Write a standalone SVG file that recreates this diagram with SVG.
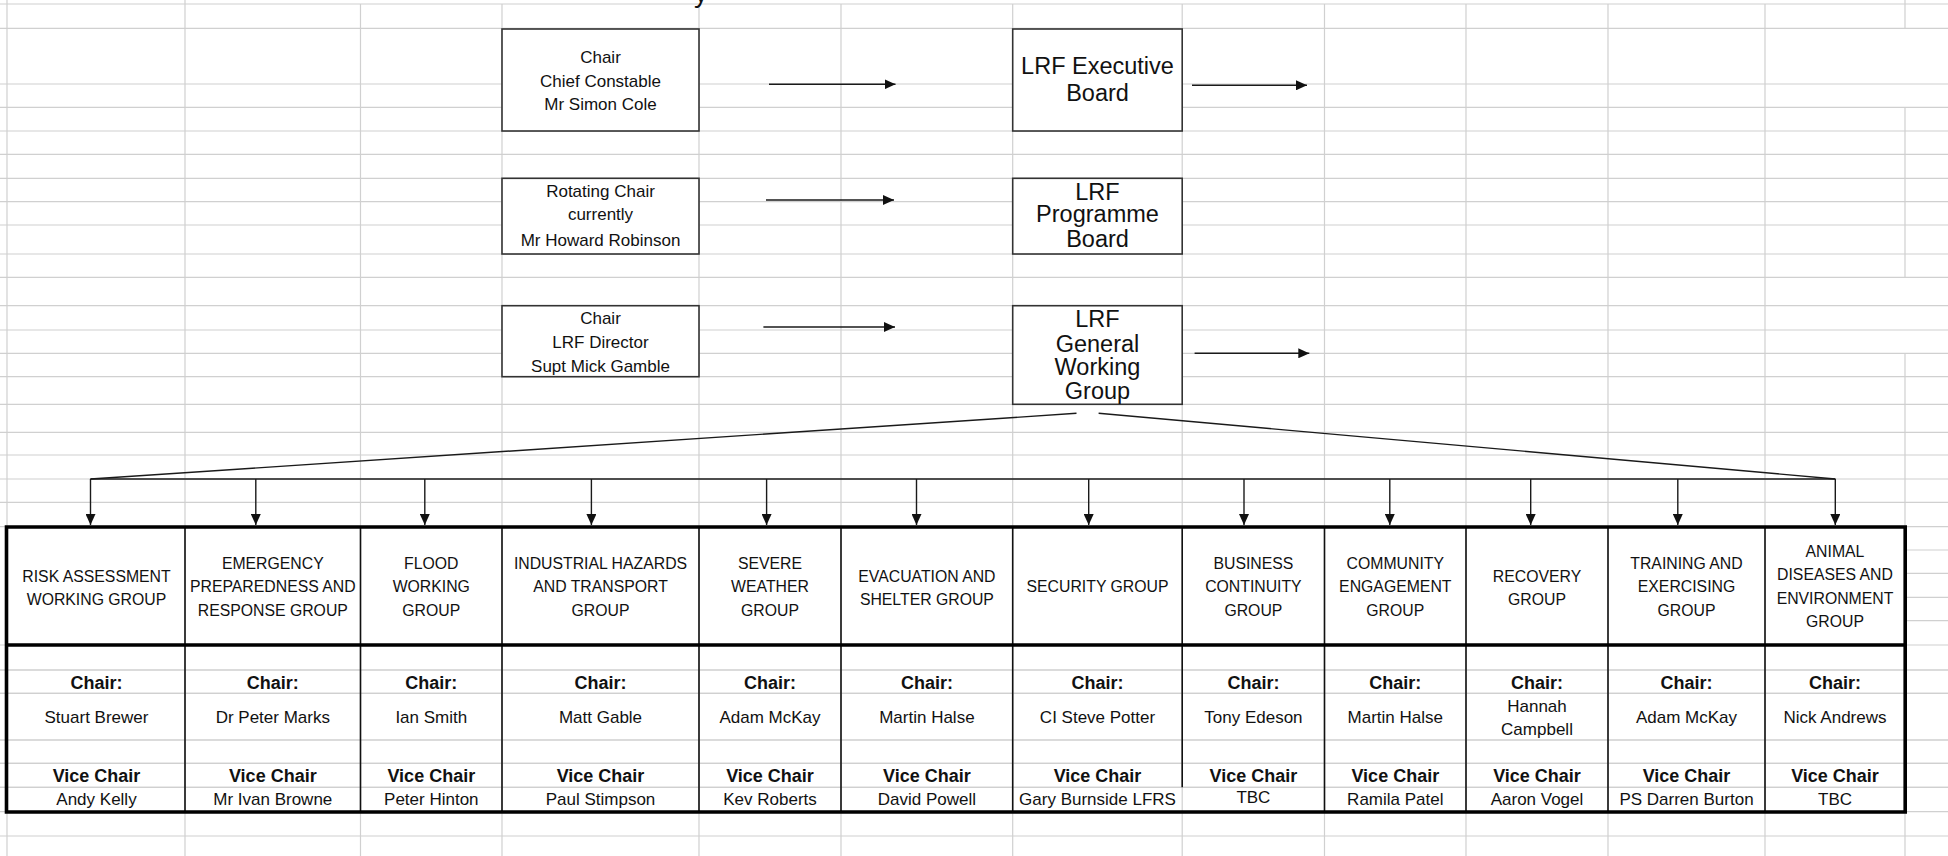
<svg xmlns="http://www.w3.org/2000/svg" width="1948" height="856" viewBox="0 0 1948 856">
<defs>
<style>
.grid{stroke:#d0d0d0;stroke-width:1.2;fill:none}
.box{fill:#fff;stroke:#333;stroke-width:1.6}
.t{font-family:"Liberation Sans",Arial,sans-serif;font-size:17px;text-anchor:middle;fill:#111}
.big{font-size:23.5px}
.hdr{font-size:15.8px}
.b{font-weight:bold;font-size:18px}
.conn{stroke:#1a1a1a;stroke-width:1.4;fill:none}
.arr{marker-end:url(#ah)}
.thick{stroke:#000;stroke-width:3.6;fill:none}
.cell{stroke:#111;stroke-width:1.6;fill:none}
</style>
<marker id="ah" viewBox="0 0 11 10" refX="11" refY="5" markerWidth="11" markerHeight="10" markerUnits="userSpaceOnUse" orient="auto">
<path d="M0,0 L11,5 L0,10 z" fill="#111"/>
</marker>
</defs>
<rect width="1948" height="856" fill="#fff"/>

<g id="grid" class="grid">
<path d="M0,4H1948 M0,28.3H1948 M0,84H1948 M0,107.3H1948 M0,131H1948 M0,154.3H1948 M0,178.3H1948 M0,201.7H1948 M0,225H1948 M0,254H1948 M0,277.3H1948 M0,305.7H1948 M0,330H1948 M0,353.3H1948 M0,376.7H1948 M0,404.3H1948 M0,432.3H1948 M0,455H1948 M0,479H1948 M0,502.3H1948 M0,526.7H1948 M1905,550H1948 M1905,573.3H1948 M1905,597.3H1948 M1905,620.7H1948 M0,645H1948 M0,670H1948 M0,693.3H1948 M0,740H1948 M0,763.3H1948 M0,787.3H1948 M0,811.7H1948 M0,836H1948"/>
<path d="M7,0V856 M185,0V856 M360.5,4V856 M502,4V856 M699,4V856 M841,4V856 M1012.7,4V856 M1182.2,4V856 M1324.5,4V856 M1466,4V856 M1608,4V856 M1765,4V856 M1905,0V28.3 M1905,107.3V277.3 M1905,353.3V856"/>
</g>

<text id="title-fragment" class="t" x="694" y="2" style="font-size:28px;text-anchor:start">y</text>

<g id="connectors">
<line class="conn arr" x1="769" y1="84.3" x2="895.5" y2="84.3"/>
<line class="conn arr" x1="766" y1="200" x2="894" y2="200"/>
<line class="conn arr" x1="763.4" y1="327" x2="895" y2="327"/>
<line class="conn arr" x1="1192" y1="85.3" x2="1307" y2="85.3"/>
<line class="conn arr" x1="1194.6" y1="353.3" x2="1309.3" y2="353.3"/>
<line class="conn" x1="1076.5" y1="413.3" x2="90.5" y2="479"/>
<line class="conn" x1="1098.6" y1="413.3" x2="1835.3" y2="479"/>
<line class="conn" x1="90.5" y1="479" x2="1835.3" y2="479"/>
<line class="conn arr" x1="90.5" y1="479" x2="90.5" y2="525"/>
<line class="conn arr" x1="255.8" y1="479" x2="255.8" y2="525"/>
<line class="conn arr" x1="424.8" y1="479" x2="424.8" y2="525"/>
<line class="conn arr" x1="591.4" y1="479" x2="591.4" y2="525"/>
<line class="conn arr" x1="766.6" y1="479" x2="766.6" y2="525"/>
<line class="conn arr" x1="916.5" y1="479" x2="916.5" y2="525"/>
<line class="conn arr" x1="1088.7" y1="479" x2="1088.7" y2="525"/>
<line class="conn arr" x1="1244" y1="479" x2="1244" y2="525"/>
<line class="conn arr" x1="1389.8" y1="479" x2="1389.8" y2="525"/>
<line class="conn arr" x1="1530.7" y1="479" x2="1530.7" y2="525"/>
<line class="conn arr" x1="1677.8" y1="479" x2="1677.8" y2="525"/>
<line class="conn arr" x1="1835.3" y1="479" x2="1835.3" y2="525"/>
</g>

<g id="chair-exec">
<rect class="box" x="502" y="29" width="197" height="102"/>
<text class="t" x="600.5" y="62.7">Chair</text>
<text class="t" x="600.5" y="86.7">Chief Constable</text>
<text class="t" x="600.5" y="110">Mr Simon Cole</text>
</g>
<g id="chair-programme">
<rect class="box" x="502" y="178.3" width="197" height="75.7"/>
<text class="t" x="600.5" y="197">Rotating Chair</text>
<text class="t" x="600.5" y="220.3">currently</text>
<text class="t" x="600.5" y="246">Mr Howard Robinson</text>
</g>
<g id="chair-general">
<rect class="box" x="502" y="305.7" width="197" height="71"/>
<text class="t" x="600.5" y="324.3">Chair</text>
<text class="t" x="600.5" y="348">LRF Director</text>
<text class="t" x="600.5" y="371.5">Supt Mick Gamble</text>
</g>

<g id="lrf-executive-board">
<rect class="box" x="1012.7" y="29" width="169.5" height="102"/>
<text class="t big" x="1097.5" y="74">LRF Executive</text>
<text class="t big" x="1097.5" y="101">Board</text>
</g>
<g id="lrf-programme-board">
<rect class="box" x="1012.7" y="178.3" width="169.5" height="75.7"/>
<text class="t big" x="1097.5" y="199.5">LRF</text>
<text class="t big" x="1097.5" y="222.3">Programme</text>
<text class="t big" x="1097.5" y="246.7">Board</text>
</g>
<g id="lrf-general-working-group">
<rect class="box" x="1012.7" y="305.7" width="169.5" height="98.6"/>
<text class="t big" x="1097.5" y="327.3">LRF</text>
<text class="t big" x="1097.5" y="351.7">General</text>
<text class="t big" x="1097.5" y="375">Working</text>
<text class="t big" x="1097.5" y="399.3">Group</text>
</g>

<g id="groups-table">
<path class="grid" d="M7,527V812 M0,670H1948 M0,693.3H1948 M0,740H1948 M0,763.3H1948 M0,787.3H1948"/>
<path class="cell" d="M185,527V812 M360.5,527V812 M502,527V812 M699,527V812 M841,527V812 M1012.7,527V812 M1182.2,527V787.3 M1324.5,527V812 M1466,527V812 M1608,527V812 M1765,527V812"/>
<path class="thick" d="M6.5,527H1905.2V812H6.5Z M6.5,645H1905.2"/>
</g>

<g id="risk-assessment">
<text class="t hdr" x="96.5" y="581.5">RISK ASSESSMENT</text>
<text class="t hdr" x="96.5" y="604.5">WORKING GROUP</text>
<text class="t b" x="96.5" y="689">Chair:</text>
<text class="t" x="96.5" y="723">Stuart Brewer</text>
<text class="t b" x="96.5" y="782.4">Vice Chair</text>
<text class="t" x="96.5" y="805.4">Andy Kelly</text>
</g>
<g id="emergency-preparedness">
<text class="t hdr" x="272.8" y="568.5">EMERGENCY</text>
<text class="t hdr" x="272.8" y="592">PREPAREDNESS AND</text>
<text class="t hdr" x="272.8" y="615.5">RESPONSE GROUP</text>
<text class="t b" x="272.8" y="689">Chair:</text>
<text class="t" x="272.8" y="723">Dr Peter Marks</text>
<text class="t b" x="272.8" y="782.4">Vice Chair</text>
<text class="t" x="272.8" y="805.4">Mr Ivan Browne</text>
</g>
<g id="flood">
<text class="t hdr" x="431.3" y="568.5">FLOOD</text>
<text class="t hdr" x="431.3" y="592">WORKING</text>
<text class="t hdr" x="431.3" y="615.5">GROUP</text>
<text class="t b" x="431.3" y="689">Chair:</text>
<text class="t" x="431.3" y="723">Ian Smith</text>
<text class="t b" x="431.3" y="782.4">Vice Chair</text>
<text class="t" x="431.3" y="805.4">Peter Hinton</text>
</g>
<g id="industrial-hazards">
<text class="t hdr" x="600.5" y="568.5">INDUSTRIAL HAZARDS</text>
<text class="t hdr" x="600.5" y="592">AND TRANSPORT</text>
<text class="t hdr" x="600.5" y="615.5">GROUP</text>
<text class="t b" x="600.5" y="689">Chair:</text>
<text class="t" x="600.5" y="723">Matt Gable</text>
<text class="t b" x="600.5" y="782.4">Vice Chair</text>
<text class="t" x="600.5" y="805.4">Paul Stimpson</text>
</g>
<g id="severe-weather">
<text class="t hdr" x="770" y="568.5">SEVERE</text>
<text class="t hdr" x="770" y="592">WEATHER</text>
<text class="t hdr" x="770" y="615.5">GROUP</text>
<text class="t b" x="770" y="689">Chair:</text>
<text class="t" x="770" y="723">Adam McKay</text>
<text class="t b" x="770" y="782.4">Vice Chair</text>
<text class="t" x="770" y="805.4">Kev Roberts</text>
</g>
<g id="evacuation-shelter">
<text class="t hdr" x="926.9" y="581.5">EVACUATION AND</text>
<text class="t hdr" x="926.9" y="604.5">SHELTER GROUP</text>
<text class="t b" x="926.9" y="689">Chair:</text>
<text class="t" x="926.9" y="723">Martin Halse</text>
<text class="t b" x="926.9" y="782.4">Vice Chair</text>
<text class="t" x="926.9" y="805.4">David Powell</text>
</g>
<g id="security">
<text class="t hdr" x="1097.5" y="592">SECURITY GROUP</text>
<text class="t b" x="1097.5" y="689">Chair:</text>
<text class="t" x="1097.5" y="723">CI Steve Potter</text>
<text class="t b" x="1097.5" y="782.4">Vice Chair</text>
<text class="t" x="1097.5" y="805.4">Gary Burnside LFRS</text>
</g>
<g id="business-continuity">
<text class="t hdr" x="1253.4" y="568.5">BUSINESS</text>
<text class="t hdr" x="1253.4" y="592">CONTINUITY</text>
<text class="t hdr" x="1253.4" y="615.5">GROUP</text>
<text class="t b" x="1253.4" y="689">Chair:</text>
<text class="t" x="1253.4" y="723">Tony Edeson</text>
<text class="t b" x="1253.4" y="782.4">Vice Chair</text>
<text class="t" x="1253.4" y="803">TBC</text>
</g>
<g id="community-engagement">
<text class="t hdr" x="1395.3" y="568.5">COMMUNITY</text>
<text class="t hdr" x="1395.3" y="592">ENGAGEMENT</text>
<text class="t hdr" x="1395.3" y="615.5">GROUP</text>
<text class="t b" x="1395.3" y="689">Chair:</text>
<text class="t" x="1395.3" y="723">Martin Halse</text>
<text class="t b" x="1395.3" y="782.4">Vice Chair</text>
<text class="t" x="1395.3" y="805.4">Ramila Patel</text>
</g>
<g id="recovery">
<text class="t hdr" x="1537" y="581.5">RECOVERY</text>
<text class="t hdr" x="1537" y="604.5">GROUP</text>
<text class="t b" x="1537" y="689">Chair:</text>
<text class="t" x="1537" y="711.8">Hannah</text>
<text class="t" x="1537" y="735.3">Campbell</text>
<text class="t b" x="1537" y="782.4">Vice Chair</text>
<text class="t" x="1537" y="805.4">Aaron Vogel</text>
</g>
<g id="training-exercising">
<text class="t hdr" x="1686.5" y="568.5">TRAINING AND</text>
<text class="t hdr" x="1686.5" y="592">EXERCISING</text>
<text class="t hdr" x="1686.5" y="615.5">GROUP</text>
<text class="t b" x="1686.5" y="689">Chair:</text>
<text class="t" x="1686.5" y="723">Adam McKay</text>
<text class="t b" x="1686.5" y="782.4">Vice Chair</text>
<text class="t" x="1686.5" y="805.4">PS Darren Burton</text>
</g>
<g id="animal-diseases">
<text class="t hdr" x="1835" y="557">ANIMAL</text>
<text class="t hdr" x="1835" y="580.3">DISEASES AND</text>
<text class="t hdr" x="1835" y="603.7">ENVIRONMENT</text>
<text class="t hdr" x="1835" y="627">GROUP</text>
<text class="t b" x="1835" y="689">Chair:</text>
<text class="t" x="1835" y="723">Nick Andrews</text>
<text class="t b" x="1835" y="782.4">Vice Chair</text>
<text class="t" x="1835" y="805.4">TBC</text>
</g>
</svg>
